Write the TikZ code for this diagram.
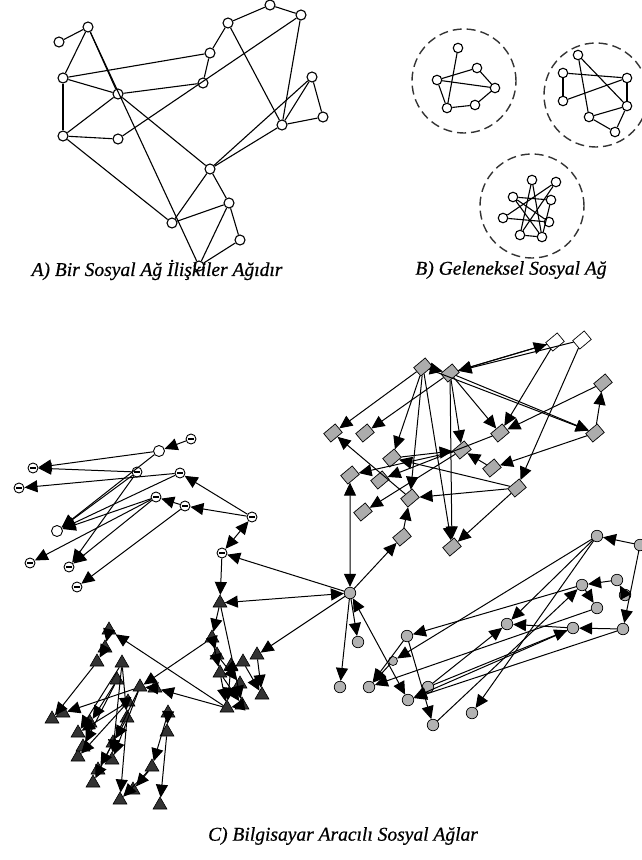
\documentclass[tikz,border=0pt]{standalone}
\usepackage{fontspec}
\setmainfont{Liberation Serif}
\usetikzlibrary{arrows.meta,shapes.geometric}
\tikzset{
  anode/.style={circle,draw,fill=white,inner sep=0pt,minimum size=10pt,line width=1.1pt},
  bnode/.style={circle,draw,fill=white,inner sep=0pt,minimum size=9.5pt,line width=1.1pt},
  ln/.style={line width=1.1pt},
  grp/.style={draw=black!80,line width=1.4pt,dash pattern=on 9pt off 5pt},
  dm/.style={rectangle,draw,fill=gray!65,inner sep=0pt,minimum width=15pt,minimum height=11pt,rotate=40,line width=0.7pt},
  dmw/.style={dm,fill=white},
  smp/.style={circle,draw,fill=white,inner sep=0pt,minimum size=11pt,line width=0.9pt},
  sm/.style={smp,minimum size=10pt,path picture={\draw[line width=1.1pt] ([xshift=-3pt]path picture bounding box.center)--([xshift=3pt]path picture bounding box.center);}},
  tri/.style={regular polygon,regular polygon sides=3,draw,fill=gray!40!black,inner sep=0pt,minimum size=16pt,line width=0.6pt},
  gc/.style={circle,draw,fill=gray!60,inner sep=0pt,minimum size=11.5pt,line width=0.7pt},
  ar/.style={-{Triangle[length=13pt,width=12pt]},line width=1pt},
  ar2/.style={{Triangle[length=13pt,width=12pt]}-{Triangle[length=13pt,width=12pt]},line width=1pt},
  captxt/.style={font=\fontsize{19.5}{22}\selectfont\itshape\addfontfeature{FakeBold=0.6},inner sep=0pt}
}
\begin{document}
\begin{tikzpicture}[x=1pt,y=-1pt]
\useasboundingbox[fill=white] (0,0) rectangle (642,860);
% ---------- A ----------
\node[anode] (a1) at (59,42) {};
\node[anode] (a2) at (88,27) {};
\node[anode] (a3) at (63,78) {};
\node[anode] (a4) at (118,94) {};
\node[anode] (a5) at (63,136) {};
\node[anode] (a6) at (118,139) {};
\node[anode] (a7) at (210,53) {};
\node[anode] (a8) at (203,83) {};
\node[anode] (a9) at (228,23) {};
\node[anode] (a10) at (270,5) {};
\node[anode] (a11) at (301,15) {};
\node[anode] (a12) at (312,77) {};
\node[anode] (a13) at (323,117) {};
\node[anode] (a14) at (282,125) {};
\node[anode] (a15) at (210,169) {};
\node[anode] (a16) at (172,223) {};
\node[anode] (a17) at (229,203) {};
\node[anode] (a18) at (240,240) {};
\node[anode] (a19) at (199,266) {};
\begin{scope}[ln]
\draw (a1)--(a2); \draw (a2)--(a3); \draw (a2)--(a4); \draw (a2)--(a19);
\draw (a4)--(a15); \draw (a3)--(a7); \draw (a3)--(a4); \draw (a3)--(a5);
\draw (a4)--(a8); \draw (a5)--(a4); \draw (a5)--(a6); \draw (a6)--(a11);
\draw (a7)--(a8); \draw (a7)--(a9); \draw (a9)--(a10); \draw (a10)--(a11);
\draw (a9)--(a14); \draw (a11)--(a14); \draw (a12)--(a14); \draw (a12)--(a13);
\draw (a13)--(a14); \draw (a15)--(a12); \draw (a15)--(a14); \draw (a5)--(a16);
\draw (a15)--(a16); \draw (a16)--(a17); \draw (a17)--(a19); \draw (a17)--(a18);
\draw (a18)--(a19); \draw (a15)--(a17);
\end{scope}
% ---------- B ----------
\node[grp,circle,minimum size=104pt,inner sep=0pt] (g1) at (464,81) {};
\node[grp,circle,minimum size=104pt,inner sep=0pt] (g2) at (596,95) {};
\node[grp,circle,minimum size=104pt,inner sep=0pt] (g3) at (532,206) {};
\node[bnode] (n1) at (458,48) {};
\node[bnode] (n2) at (477,68) {};
\node[bnode] (n3) at (437,80) {};
\node[bnode] (n4) at (495,88) {};
\node[bnode] (n5) at (447,108) {};
\node[bnode] (n6) at (475,105) {};
\begin{scope}[ln]
\draw (n1)--(n5); \draw (n3)--(n4); \draw (n3)--(n2); \draw (n3)--(n5);
\draw (n5)--(n6); \draw (n6)--(n4); \draw (n2)--(n4);
\end{scope}
\node[bnode] (m1) at (578,55) {};
\node[bnode] (m2) at (563,73) {};
\node[bnode] (m3) at (627,78) {};
\node[bnode] (m4) at (563,101) {};
\node[bnode] (m5) at (627,106) {};
\node[bnode] (m6) at (589,117) {};
\node[bnode] (m7) at (615,132) {};
\begin{scope}[ln]
\draw (m1)--(m6); \draw (m1)--(m5); \draw (m2)--(m3); \draw (m2)--(m4);
\draw (m4)--(m3); \draw (m3)--(m5); \draw (m6)--(m5); \draw (m6)--(m7); \draw (m7)--(m5);
\end{scope}
\node[bnode] (p1) at (532,180) {};
\node[bnode] (p2) at (556,182) {};
\node[bnode] (p3) at (513,197) {};
\node[bnode] (p4) at (551,200) {};
\node[bnode] (p5) at (503,218) {};
\node[bnode] (p6) at (549,222) {};
\node[bnode] (p7) at (520,235) {};
\node[bnode] (p8) at (542,237) {};
\begin{scope}[ln]
\draw (p1)--(p8); \draw (p2)--(p5); \draw (p1)--(p7); \draw (p3)--(p6);
\draw (p3)--(p4); \draw (p5)--(p6); \draw (p7)--(p8); \draw (p4)--(p8);
\draw (p2)--(p7); \draw (p3)--(p8);
\end{scope}
\node[captxt] (capA) at (157,270) {A) Bir Sosyal Ağ İlişkiler Ağıdır};
\node[captxt] (capB) at (511,270) {B) Geleneksel Sosyal Ağ};
% ---------- C ----------
\node[gc] (hub) at (350,593) {};
% diamonds
\node[dm] (d1) at (423,367) {};
\node[dm] (d2) at (450,373) {};
\node[dmw] (d3) at (555,342) {};
\node[dmw] (d4) at (582,340) {};
\node[dm] (d5) at (603,383) {};
\node[dm] (d6) at (333,433) {};
\node[dm] (d7) at (365,433) {};
\node[dm] (d8) at (500,433) {};
\node[dm] (d9) at (595,433) {};
\node[dm] (d10) at (462,450) {};
\node[dm] (d11) at (392,458) {};
\node[dm] (d12) at (350,475) {};
\node[dm] (d13) at (380,480) {};
\node[dm] (d14) at (492,468) {};
\node[dm] (d15) at (410,498) {};
\node[dm] (d16) at (517,488) {};
\node[dm] (d17) at (363,512) {};
\node[dm] (d18) at (402,537) {};
\node[dm] (d19) at (452,547) {};
\begin{scope}[ar]
\draw (d1)--(d6); \draw (d2)--(d7); \draw (d1)--(d11); \draw (d1)--(d15);
\draw (d1)--(d19); \draw (d2)--(d19); \draw (d2)--(d10); \draw (d2)--(d8);
\draw (d2)--(d9); \draw (d1)--(d9); \draw (d3)--(d2); \draw (d4)--(d2);
\draw (d2)--(d3); \draw (d3)--(d8); \draw (d4)--(d16); \draw (d5)--(d8);
\draw (d9)--(d14); \draw (d10)--(d12); \draw (d11)--(d10); \draw (d14)--(d10);
\draw (d16)--(d15); \draw (d16)--(d19); \draw (d8)--(d13); \draw (d15)--(d6);
\draw (d10)--(d17); \draw (d18)--(d15); \draw (hub)--(d18); \draw (d1)--(d2);
\draw (d9)--(d5); \draw (d16)--(d11);
\end{scope}
\draw[ar2] (hub)--(d12);
% smiley circles
\node[smp] (s1) at (159,451) {};
\node[sm] (s2) at (191,439) {};
\node[sm] (s3) at (33,468) {};
\node[sm] (s4) at (137,472) {};
\node[sm] (s5) at (180,473) {};
\node[sm] (s6) at (19,488) {};
\node[sm] (s7) at (156,497) {};
\node[sm] (s8) at (185,506) {};
\node[sm] (s9) at (252,517) {};
\node[smp] (s10) at (57,531) {};
\node[sm] (s11) at (30,563) {};
\node[sm] (s12) at (69,567) {};
\node[sm] (s13) at (77,587) {};
\node[sm] (s14) at (222,553) {};
\begin{scope}[ar]
\draw (s2)--(s1); \draw (s1)--(s3); \draw (s4)--(s3); \draw (s5)--(s6);
\draw (s1)--(s10); \draw (s4)--(s10); \draw (s5)--(s10); \draw (s7)--(s10);
\draw (s7)--(s11); \draw (s4)--(s12); \draw (s7)--(s12); \draw (s8)--(s13);
\draw (s9)--(s5); \draw (s9)--(s8); \draw (s8)--(s7); \draw (hub)--(s14);
\end{scope}
\draw[ar2] (s9)--(s14);
% triangles
\node[tri] (T1) at (220,603) {};
\node[tri] (T2) at (212,638) {};
\node[tri] (T3) at (220,673) {};
\node[tri] (T4) at (243,662) {};
\node[tri] (T5) at (257,655) {};
\node[tri] (T6) at (227,708) {};
\node[tri] (T7) at (242,705) {};
\node[tri] (T8) at (262,695) {};
\node[tri] (T9) at (217,655) {};
\node[tri] (T10) at (231,666) {};
\node[tri] (T11) at (240,684) {};
\node[tri] (U1) at (109,630) {};
\node[tri] (U2) at (97,662) {};
\node[tri] (U3) at (122,663) {};
\node[tri] (U4) at (140,687) {};
\node[tri] (U5) at (128,702) {};
\node[tri] (U6) at (52,719) {};
\node[tri] (U7) at (78,733) {};
\node[tri] (U8) at (78,757) {};
\node[tri] (U9) at (112,760) {};
\node[tri] (U10) at (93,783) {};
\node[tri] (U11) at (168,713) {};
\node[tri] (U12) at (120,800) {};
\node[tri] (U13) at (160,805) {};
\node[tri] (U14) at (152,767) {};
\node[tri] (U15) at (127,718) {};
\node[tri] (V1) at (105,648) {};
\node[tri] (V2) at (117,680) {};
\node[tri] (V3) at (155,688) {};
\node[tri] (V4) at (63,713) {};
\node[tri] (V5) at (90,723) {};
\node[tri] (V6) at (83,747) {};
\node[tri] (V7) at (113,743) {};
\node[tri] (V8) at (98,770) {};
\node[tri] (V9) at (167,732) {};
\node[tri] (V10) at (133,790) {};
\begin{scope}[ar]
\draw (s14)--(T1); \draw (hub)--(T5); \draw (T1)--(T2); \draw (T1)--(T7);
\draw (T2)--(T3); \draw (T3)--(T6); \draw (T4)--(T3); \draw (T5)--(T8);
\draw (T7)--(T6); \draw (T6)--(U1); \draw (T6)--(V3); \draw (T2)--(U4);
\draw (U1)--(V1); \draw (V1)--(U2); \draw (U2)--(U6); \draw (U4)--(V4); \draw (U5)--(U7);
\draw (U5)--(U8); \draw (U3)--(U7); \draw (U3)--(U9); \draw (U4)--(U9);
\draw (U4)--(U10); \draw (U15)--(U12); \draw (U11)--(U14); \draw (U14)--(U12);
\draw (V9)--(U13); \draw (U3)--(U15); \draw (T4)--(T8); \draw (T3)--(T7);
\draw (T2)--(T9); \draw (T9)--(T11); \draw (T10)--(T6); \draw (V3)--(U4);
\draw (V2)--(V5); \draw (V2)--(V6); \draw (U15)--(V7); \draw (V7)--(V8);
\draw (U11)--(V9); \draw (U14)--(V10);
\end{scope}
\draw[ar2] (T1)--(hub);
% gray circles
\node[gc] (c1) at (597,536) {};
\node[gc] (c2) at (640,545) {};
\node[gc] (c3) at (582,585) {};
\node[gc] (c4) at (617,580) {};
\node[gc] (c5) at (625,595) {};
\node[gc] (c6) at (597,608) {};
\node[gc] (c7) at (507,624) {};
\node[gc] (c8) at (573,628) {};
\node[gc] (c9) at (623,629) {};
\node[gc] (c10) at (407,636) {};
\node[gc] (c11) at (358,642) {};
\node[gc,minimum size=9pt] (c12) at (393,661) {};
\node[gc] (c13) at (340,687) {};
\node[gc] (c14) at (369,687) {};
\node[gc] (c15) at (428,687) {};
\node[gc] (c16) at (408,700) {};
\node[gc] (c17) at (472,713) {};
\node[gc] (c18) at (433,725) {};
\begin{scope}[ar]
\draw (c2)--(c1); \draw (c2)--(c9); \draw (c9)--(c8); \draw (c1)--(c7);
\draw (c1)--(c12); \draw (c1)--(c17); \draw (c3)--(c10); \draw (c9)--(c16);
\draw (c6)--(c14); \draw (c4)--(c3); \draw (c5)--(c4); \draw (c3)--(c6);
\draw (c10)--(c18); \draw (c10)--(c14); \draw (hub)--(c11); \draw (hub)--(c13);
\draw (c8)--(c16); \draw (c18)--(c3); \draw (c15)--(c7); \draw (c8)--(c7);
\draw (c15)--(c8); \draw (c12)--(c14);
\end{scope}
\draw[ar2] (hub)--(c16);
\node[captxt] (capC) at (343,836) {C) Bilgisayar Aracılı Sosyal Ağlar};
\end{tikzpicture}
\end{document}
